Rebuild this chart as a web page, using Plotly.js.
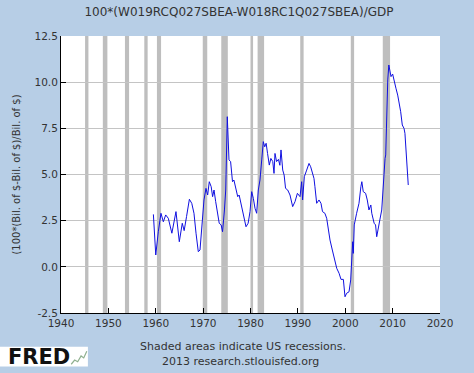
<!DOCTYPE html>
<html>
<head>
<meta charset="utf-8">
<script src="https://cdn.plot.ly/plotly-3.0.1.min.js"></script>
<style>html,body{margin:0;padding:0;background:#b7cee6;}#chart{width:474px;height:373px;}</style>
</head>
<body>
<div id="chart"></div>
<script>
const years = [1959.5,1960.0,1960.54,1961.1,1961.6,1962.1,1962.65,1963.4,1964.27,1964.97,1965.6,1966.0,1966.5,1967.1,1967.6,1968.07,1968.5,1968.98,1969.34,1969.7,1970.18,1970.6,1970.96,1971.3,1971.7,1972.0,1972.3,1972.65,1973.0,1973.4,1973.8,1974.1,1974.5,1974.77,1975.1,1975.3,1975.46,1975.8,1976.2,1976.5,1976.94,1977.3,1977.6,1978.1,1978.6,1979.05,1979.5,1979.9,1980.25,1980.6,1980.95,1981.3,1981.65,1982.0,1982.37,1982.7,1983.0,1983.3,1983.6,1983.97,1984.3,1984.7,1984.96,1985.17,1985.5,1985.9,1986.2,1986.44,1986.8,1987.1,1987.4,1987.85,1988.34,1988.9,1989.4,1989.9,1990.45,1990.8,1991.0,1991.36,1991.86,1992.35,1992.7,1993.05,1993.4,1993.6,1993.97,1994.46,1994.88,1995.2,1995.7,1996.08,1996.4,1996.78,1997.27,1997.7,1998.2,1998.7,1999.1,1999.6,1999.95,2000.3,2000.8,2001.15,2001.36,2001.57,2001.7,2001.9,2002.4,2002.9,2003.3,2003.5,2003.8,2004.3,2004.65,2005.0,2005.4,2005.6,2006.1,2006.4,2006.64,2007.0,2007.3,2007.7,2007.9,2008.18,2008.4,2008.54,2008.75,2008.97,2009.2,2009.45,2009.66,2010.0,2010.36,2010.7,2011.07,2011.35,2011.7,2012.04,2012.4,2012.6,2012.8,2013.1,2013.3];
const values = [2.84,0.64,1.9,2.9,2.44,2.81,2.63,1.82,2.99,1.36,2.36,1.96,2.72,3.66,3.44,2.9,1.82,0.82,0.91,2.17,3.62,4.25,3.89,4.61,4.34,3.8,4.16,3.53,2.9,2.36,2.27,1.9,3.08,4.16,8.13,6.87,5.79,5.7,4.61,4.7,4.16,3.8,3.89,3.26,2.72,2.17,2.36,2.99,4.07,3.71,3.17,2.9,4.16,4.7,5.79,6.78,6.5,6.69,6.14,5.51,5.87,5.7,5.06,6.14,5.7,5.82,5.5,6.33,5.24,4.97,4.25,4.16,3.89,3.26,3.53,3.98,3.8,4.61,3.62,4.88,5.24,5.6,5.42,5.06,4.79,4.34,3.44,3.62,3.44,2.99,2.9,2.63,2.0,1.45,0.91,0.37,-0.08,-0.35,-0.68,-0.68,-1.62,-1.43,-1.35,-0.71,0.55,1.36,0.73,2.27,2.9,3.44,4.34,4.61,4.07,3.98,3.62,3.08,3.35,2.9,2.36,2.27,1.63,2.27,2.54,3.08,3.98,5.24,5.87,6.06,8.13,10.12,10.93,10.66,10.3,10.44,9.94,9.67,9.3,8.94,8.4,7.68,7.5,7.23,6.33,5.24,4.43];

// US recessions (NBER)
const recessionStarts = [1945.08,1948.83,1953.5,1957.58,1960.25,1969.92,1973.83,1980.0,1981.5,1990.5,2001.17,2007.92];
const recessionEnds   = [1945.79,1949.79,1954.37,1958.29,1961.12,1970.87,1975.21,1980.54,1982.87,1991.21,2001.87,2009.46];

const xTicks = [1940,1950,1960,1970,1980,1990,2000,2010,2020];
const yTicks = [-2.5,0,2.5,5,7.5,10,12.5];

const titleText = '100*(W019RCQ027SBEA-W018RC1Q027SBEA)/GDP';
const yTitleText = '(100*(Bil. of $-Bil. of $)/Bil. of $)';
const noteLines = ['Shaded areas indicate US recessions.', '2013 research.stlouisfed.org'];

const font = 'DejaVu Sans, Verdana, sans-serif';
const textColor = '#333333';

const shapes = recessionStarts.map((s, i) => ({
  type: 'rect', xref: 'x', yref: 'paper', x0: s, x1: recessionEnds[i], y0: 0, y1: 1,
  fillcolor: '#bebebe', line: {width: 0}, layer: 'between'
}));
// FRED logo box
shapes.push({type: 'rect', xref: 'paper', yref: 'paper', x0: -0.161, x1: 0.071, y0: -0.193, y1: -0.122,
  fillcolor: '#ffffff', line: {width: 0}, layer: 'above'});
shapes.push({type: 'path', xref: 'paper', yref: 'paper', layer: 'above',
  path: 'M 0.027,-0.185 L 0.036,-0.170 L 0.044,-0.176 L 0.053,-0.155 L 0.060,-0.162 L 0.068,-0.138',
  line: {color: '#8fb08f', width: 1.2}});

const trace = {
  x: years, y: values, type: 'scatter', mode: 'lines',
  line: {color: '#1010e0', width: 1}, hoverinfo: 'skip', showlegend: false
};

const layout = {
  width: 474, height: 373,
  paper_bgcolor: '#b7cee6', plot_bgcolor: '#ffffff',
  margin: {l: 61, r: 34, t: 36, b: 60},
  font: {family: font, size: 10.5, color: textColor},
  title: {text: titleText, font: {family: font, size: 12, color: textColor},
          x: (239-61)/379, xanchor: 'center', xref: 'paper', y: 1 - 11.5/373, yanchor: 'middle', yref: 'container'},
  xaxis: {range: [1940, 2020], tickvals: xTicks, ticktext: xTicks.map(String),
          showgrid: false, zeroline: false, showline: true, linecolor: '#000', linewidth: 1,
          ticks: 'inside', ticklen: 5, tickcolor: '#000', tickfont: {size: 10.5, color: textColor}},
  yaxis: {range: [-2.5, 12.5], tickvals: yTicks, ticktext: yTicks.map(v => v.toFixed(1)),
          showgrid: true, gridcolor: '#c4c4c4', gridwidth: 1, zeroline: false,
          showline: true, linecolor: '#000', linewidth: 1,
          ticks: 'inside', ticklen: 5, tickcolor: '#000', tickfont: {size: 10.5, color: textColor},
          title: {text: yTitleText, font: {size: 10, color: textColor}, standoff: 12}},
  shapes: shapes,
  annotations: [
    {text: noteLines[0], xref: 'paper', yref: 'paper', x: (243-61)/379, y: (313-346.5)/277,
     xanchor: 'center', yanchor: 'middle', showarrow: false, font: {size: 11, color: textColor}},
    {text: noteLines[1], xref: 'paper', yref: 'paper', x: (240-61)/379, y: (313-361)/277,
     xanchor: 'center', yanchor: 'middle', showarrow: false, font: {size: 11, color: textColor}},
    {text: '<b>FRED</b>', xref: 'paper', yref: 'paper', x: (6-61)/379, y: (313-356.5)/277,
     xanchor: 'left', yanchor: 'middle', showarrow: false,
     font: {family: 'DejaVu Sans, sans-serif', size: 21, color: '#111111'}}
  ]
};

Plotly.newPlot('chart', [trace], layout, {staticPlot: true, displayModeBar: false});
</script>
</body>
</html>
